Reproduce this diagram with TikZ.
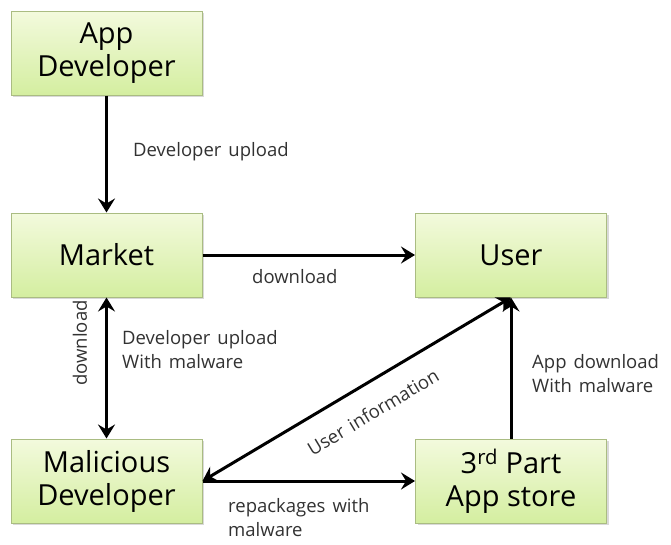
\documentclass[tikz,border=0pt]{standalone}
\usepackage{fontspec}
\setmainfont{Open Sans}
\usetikzlibrary{arrows.meta,shadows}
\definecolor{boxtop}{RGB}{243,250,221}
\definecolor{boxbot}{RGB}{212,238,160}
\definecolor{boxborder}{RGB}{170,188,130}
\definecolor{labelgray}{RGB}{50,50,50}
\newcommand{\lblfont}{\fontsize{18.5}{24}\selectfont\spaceskip=7pt plus 2pt\relax}
\begin{document}
\begin{tikzpicture}[x=1pt,y=-1pt,
  box/.style={draw=boxborder, line width=1pt, top color=boxtop, bottom color=boxbot,
    minimum width=191pt, minimum height=84pt, inner sep=0pt, align=center,
    font=\fontsize{29}{33}\selectfont,
    drop shadow={opacity=0.3, shadow xshift=2pt, shadow yshift=-2pt}},
  arr/.style={line width=3pt, -{Stealth[length=14pt,width=17pt,inset=5pt]}},
  arrtwo/.style={line width=3pt, {Stealth[length=14pt,width=17pt,inset=5pt]}-{Stealth[length=14pt,width=17pt,inset=5pt]}},
  lbl/.style={font=\lblfont, text=labelgray, align=left, inner sep=0pt}]
\useasboundingbox (0,0) rectangle (671,544);
\node[box] (appdev) at (106.5,53) {App\\Developer};
\node[box] (market) at (106.5,255) {Market};
\node[box] (user) at (511,255) {User};
\node[box] (mal) at (106.5,481) {Malicious\\Developer};
\node[box] (third) at (511,481) {3\textsuperscript{rd} Part\\App store};

\draw[arr] (appdev) -- (market);
\draw[arr] (market) -- (user);
\draw[arrtwo] (market) -- (mal);
\draw[arr] (mal) -- (third);
\draw[arr] (third) -- (user);
\draw[arrtwo] (mal.east) -- (user.south);

\node[lbl, anchor=west] (l1) at (133,152) {Developer upload};
\node[lbl, anchor=west] (l2) at (252,277) {download};
\node[lbl, rotate=90] (l3) at (80,343) {download};
\node[lbl, anchor=north west] (l4) at (122,330) {Developer upload\\With malware};
\node[lbl, rotate=31] (l5) at (373,412) {User information};
\node[lbl, anchor=north west] (l6) at (532,354) {App download\\With malware};
\node[lbl, anchor=north west] (l7) at (228,498) {repackages with\\malware};
\end{tikzpicture}
\end{document}
